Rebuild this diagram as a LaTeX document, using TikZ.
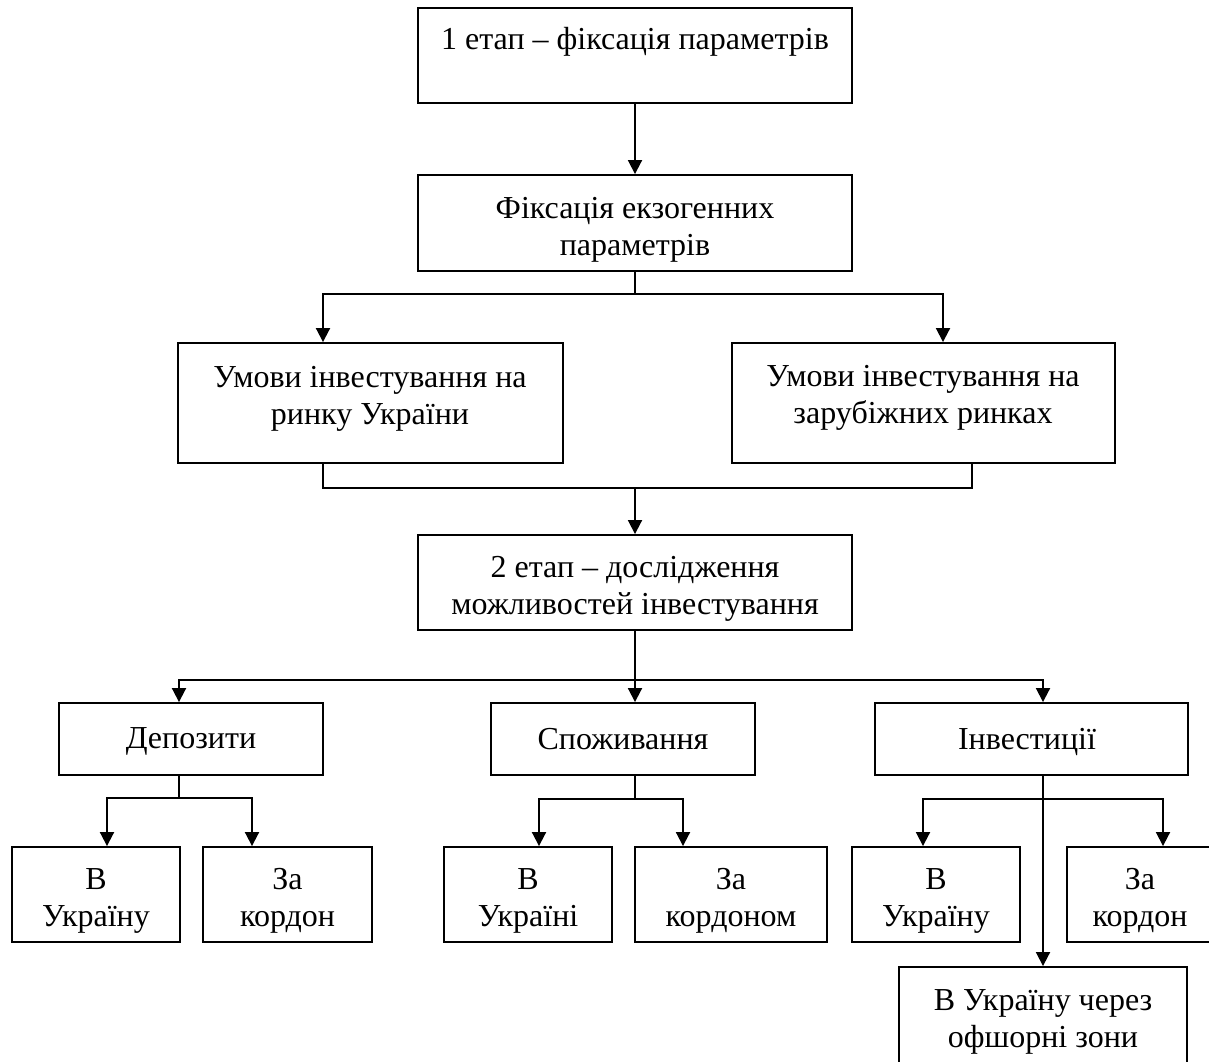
\documentclass[tikz,border=0pt]{standalone}
\usepackage{fontspec}
\setmainfont{Liberation Serif}
\usetikzlibrary{arrows.meta}
\tikzset{
  box/.style={draw, line width=1.9pt, inner sep=0pt},
  txt/.style={font=\fontsize{32}{36.8}\selectfont, align=center, inner sep=0pt},
  arr/.style={-{Triangle[length=14pt,width=14pt]}, line width=1.9pt},
  ln/.style={line width=1.9pt}
}
\begin{document}
\begin{tikzpicture}[x=1pt,y=-1pt]
\clip (0,0) rectangle (1209,1061);
\fill[white] (0,0) rectangle (1209,1061);
% boxes
\node[box, minimum width=434pt, minimum height=95pt] (b1) at (635,55.5) {};
\node[box, minimum width=434pt, minimum height=96pt] (b2) at (635,223) {};
\node[box, minimum width=385pt, minimum height=120pt] (b3) at (370.5,403) {};
\node[box, minimum width=383pt, minimum height=120pt] (b4) at (923.5,403) {};
\node[box, minimum width=434pt, minimum height=95pt] (b5) at (635,582.5) {};
\node[box, minimum width=264pt, minimum height=72pt] (b6) at (191,739) {};
\node[box, minimum width=264pt, minimum height=72pt] (b7) at (623,739) {};
\node[box, minimum width=313pt, minimum height=72pt] (b8) at (1031.5,739) {};
\node[box, minimum width=168pt, minimum height=95pt] (c1) at (96,894.5) {};
\node[box, minimum width=169pt, minimum height=95pt] (c2) at (287.5,894.5) {};
\node[box, minimum width=168pt, minimum height=95pt] (c3) at (528,894.5) {};
\node[box, minimum width=192pt, minimum height=95pt] (c4) at (731,894.5) {};
\node[box, minimum width=168pt, minimum height=95pt] (c5) at (936,894.5) {};
\node[box, minimum width=146pt, minimum height=95pt] (c6) at (1140,894.5) {};
\node[box, minimum width=288pt, minimum height=97pt] (c7) at (1043,1015.5) {};
% texts
\node[txt] (t1) at (635,42) {1 етап – фіксація параметрів};
\node[txt] (t2) at (635,230) {Фіксація екзогенних\\параметрів};
\node[txt] (t3) at (370,399) {Умови інвестування на\\ринку України};
\node[txt] (t4) at (923,397.5) {Умови інвестування на\\зарубіжних ринках};
\node[txt] (t5) at (635,589) {2 етап – дослідження\\можливостей інвестування};
\node[txt] (t6) at (191,741) {Депозити};
\node[txt] (t7) at (623,739) {Споживання};
\node[txt] (t8) at (1027,742) {Інвестиції};
\node[txt] (u1) at (96,901) {В\\Україну};
\node[txt] (u2) at (287.5,901) {За\\кордон};
\node[txt] (u3) at (528,901) {В\\Україні};
\node[txt] (u4) at (731,901) {За\\кордоном};
\node[txt] (u5) at (936,901) {В\\Україну};
\node[txt] (u6) at (1140,901) {За\\кордон};
\node[txt] (u7) at (1043,1022) {В Україну через\\офшорні зони};
% junctions
\coordinate (j1) at (635,294);
\coordinate (j2) at (635,488);
\coordinate (j3) at (635,680);
\coordinate (j4) at (179,798);
\coordinate (j5) at (635,799);
\coordinate (j6) at (1043,799);
% connectors
\draw[arr] (b1.south) -- (b2.north);
\draw[ln] (b2.south) -- (j1);
\draw[arr] (j1) -| ([xshift=-47.5pt]b3.north);
\draw[arr] (j1) -| ([xshift=19.5pt]b4.north);
\draw[ln] ([xshift=-47.5pt]b3.south) |- (j2) -| ([xshift=48.5pt]b4.south);
\draw[arr] (j2) -- (b5.north);
\draw[ln] (b5.south) -- (j3);
\draw[arr] (j3) -| ([xshift=-12pt]b6.north);
\draw[arr] (j3) -- ([xshift=12pt]b7.north);
\draw[arr] (j3) -| ([xshift=11.5pt]b8.north);
\draw[ln] ([xshift=-12pt]b6.south) -- (j4);
\draw[arr] (j4) -| ([xshift=11pt]c1.north);
\draw[arr] (j4) -| ([xshift=-35.5pt]c2.north);
\draw[ln] ([xshift=12pt]b7.south) -- (j5);
\draw[arr] (j5) -| ([xshift=11pt]c3.north);
\draw[arr] (j5) -| ([xshift=-48pt]c4.north);
\draw[arr] ([xshift=11.5pt]b8.south) -- (c7.north);
\draw[arr] (j6) -| ([xshift=-13pt]c5.north);
\draw[arr] (j6) -| ([xshift=23pt]c6.north);
\end{tikzpicture}
\end{document}
